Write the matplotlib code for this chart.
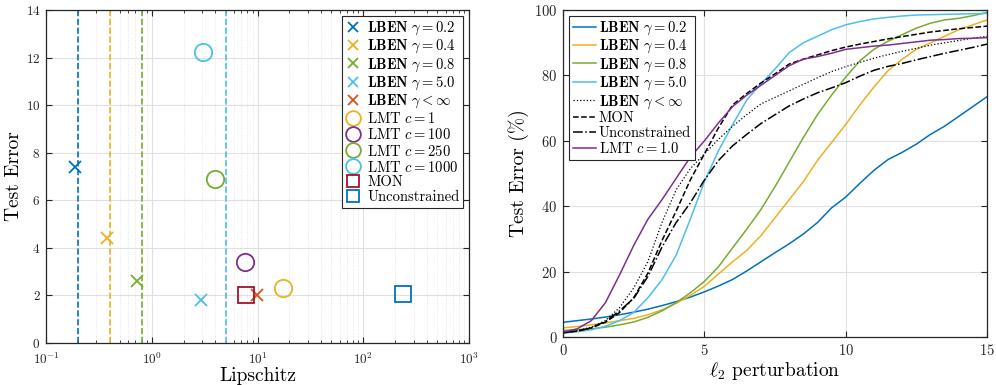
import matplotlib
matplotlib.use('Agg')
import matplotlib.pyplot as plt
import numpy as np

plt.rcParams['font.family'] = 'serif'
plt.rcParams['font.serif'] = ['cmr10']
plt.rcParams['mathtext.fontset'] = 'cm'
plt.rcParams['axes.formatter.use_mathtext'] = True

# MATLAB default colours
blue = (0.0, 0.447, 0.741)
orange = (0.929, 0.694, 0.125)
green = (0.466, 0.674, 0.188)
lblue = (0.301, 0.745, 0.933)
red = (0.85, 0.325, 0.098)
purple = (0.494, 0.184, 0.556)
dred = (0.635, 0.078, 0.184)

# ---- left panel data: Lipschitz vs test error ----
lben_labels = [r'$\mathbf{LBEN}\ \gamma=0.2$', r'$\mathbf{LBEN}\ \gamma=0.4$',
               r'$\mathbf{LBEN}\ \gamma=0.8$', r'$\mathbf{LBEN}\ \gamma=5.0$',
               r'$\mathbf{LBEN}\ \gamma<\infty$']
lben_lip = [0.188, 0.375, 0.72, 2.95, 9.8]
lben_err = [7.42, 4.41, 2.59, 1.82, 2.03]
lben_gamma = [0.2, 0.4, 0.8, 5.0]   # dashed vertical bounds

lmt_labels = [r'LMT $c=1$', r'LMT $c=100$', r'LMT $c=250$', r'LMT $c=1000$']
lmt_lip = [17.5, 7.6, 3.96, 3.07]
lmt_err = [2.31, 3.40, 6.90, 12.22]

mon_lip, mon_err = 7.78, 2.03
unc_lip, unc_err = 239, 2.07

# ---- right panel data: error vs l2 perturbation ----
eps = np.arange(0, 15.01, 0.5)
err_g02 = [4.5, 5.0, 5.5, 6.1, 6.8, 7.6, 8.5, 9.6, 10.8, 12.2, 13.8, 15.6, 17.6, 20.2, 23.0, 25.8,
           28.5, 31.5, 35.0, 39.5, 42.8, 47.0, 51.0, 54.3, 56.5, 59.0, 62.0, 64.5, 67.5, 70.5, 73.5]
err_g04 = [2.8, 3.2, 3.7, 4.3, 5.0, 5.7, 6.8, 8.3, 10.3, 12.7, 15.5, 19.3, 23.0, 26.5, 31.0, 36.5,
           42.0, 47.5, 54.0, 59.5, 65.0, 71.0, 76.5, 81.5, 85.0, 88.0, 90.0, 92.0, 94.0, 95.5, 97.0]
err_g08 = [2.0, 2.2, 2.5, 3.0, 3.7, 4.6, 6.0, 8.0, 10.5, 13.5, 17.0, 21.5, 27.3, 33.0, 39.0, 46.0,
           53.5, 61.0, 68.0, 74.0, 79.5, 84.5, 88.0, 90.5, 92.5, 94.5, 96.0, 97.0, 97.5, 98.3, 99.3]
err_g5 = [1.2, 1.6, 2.2, 3.3, 5.0, 7.5, 12.0, 17.5, 25.0, 36.0, 47.5, 57.0, 65.0, 72.5, 77.5, 82.0,
          87.0, 90.0, 92.0, 94.0, 95.5, 96.5, 97.3, 97.8, 98.2, 98.5, 98.6, 98.7, 98.8, 98.9, 99.0]
err_ginf = [1.5, 2.0, 3.0, 5.0, 9.0, 15.0, 23.0, 35.0, 45.0, 51.5, 56.0, 60.5, 64.5, 68.0, 71.3, 73.3,
            75.3, 77.3, 79.3, 81.2, 82.7, 84.0, 85.3, 86.4, 87.4, 88.3, 89.3, 90.0, 90.7, 91.4, 92.0]
err_mon = [1.3, 1.8, 2.8, 4.5, 7.5, 12.0, 19.5, 29.5, 38.5, 48.0, 56.0, 64.0, 71.0, 74.5, 77.7, 80.5,
           83.5, 85.0, 86.3, 87.6, 88.7, 89.6, 90.4, 91.2, 91.9, 92.6, 93.3, 93.8, 94.3, 94.7, 95.1]
err_unc = [1.3, 1.8, 2.8, 4.8, 8.0, 11.8, 18.5, 27.5, 35.0, 41.0, 48.0, 54.0, 58.5, 62.0, 65.3, 68.0,
           70.7, 72.8, 74.7, 76.2, 77.8, 79.8, 81.6, 82.8, 83.7, 84.8, 85.8, 86.8, 87.7, 88.6, 89.6]
err_lmt = [1.5, 2.5, 5.0, 10.5, 19.0, 28.0, 36.0, 42.0, 48.5, 55.0, 60.0, 65.5, 70.5, 74.0, 77.0, 80.0,
           83.0, 85.0, 85.8, 86.8, 88.0, 88.5, 89.0, 89.3, 89.8, 90.3, 90.8, 91.0, 91.3, 91.4, 91.6]

fig = plt.figure(figsize=(9.96, 3.85), dpi=100)
ax1 = fig.add_axes([0.0462, 0.109, 0.4247, 0.865])
ax2 = fig.add_axes([0.5653, 0.1247, 0.4257, 0.849])

grid_c = (0.88, 0.88, 0.88)
axis_c = (0.15, 0.15, 0.15)

# left panel
lben_cols = [blue, orange, green, lblue, red]
for g, c in zip(lben_gamma, lben_cols):
    ax1.axvline(g, color=c, linestyle='--', lw=1.2)
for x, y, c, lab in zip(lben_lip, lben_err, lben_cols, lben_labels):
    ax1.plot(x, y, 'x', color=c, ms=9, mew=1.3, label=lab)
lmt_cols = [orange, purple, green, lblue]
for x, y, c, lab in zip(lmt_lip, lmt_err, lmt_cols, lmt_labels):
    ax1.plot(x, y, 'o', color=c, mfc='none', ms=12.5, mew=1.3, label=lab)
ax1.plot(mon_lip, mon_err, 's', color=dred, mfc='none', ms=11, mew=1.3, label='MON')
ax1.plot(unc_lip, unc_err, 's', color=blue, mfc='none', ms=11, mew=1.3, label='Unconstrained')

ax1.set_xscale('log')
ax1.set_xlim(0.1, 1000)
ax1.set_ylim(0, 14)
ax1.set_yticks(range(0, 15, 2))
ax1.grid(True, which='major', color=grid_c, lw=0.8)
ax1.grid(True, which='minor', axis='x', color=grid_c, lw=0.6, linestyle=':')
ax1.set_xlabel('Lipschitz', fontsize=14, labelpad=0)
ax1.set_ylabel('Test Error', fontsize=14, labelpad=2)
leg1 = ax1.legend(loc='upper right', fontsize=10.5, numpoints=1, handlelength=1.0, markerscale=0.85,
                  handletextpad=0.5, labelspacing=0.07, borderpad=0.25, borderaxespad=0.4,
                  fancybox=False, framealpha=1, edgecolor=axis_c)
leg1.get_frame().set_linewidth(0.8)

# right panel
ax2.plot(eps, err_g02, color=blue, lw=1.1, label=lben_labels[0])
ax2.plot(eps, err_g04, color=orange, lw=1.1, label=lben_labels[1])
ax2.plot(eps, err_g08, color=green, lw=1.1, label=lben_labels[2])
ax2.plot(eps, err_g5, color=lblue, lw=1.1, label=lben_labels[3])
ax2.plot(eps, err_ginf, color='k', lw=0.9, linestyle=':', label=lben_labels[4])
ax2.plot(eps, err_mon, color='k', lw=1.1, linestyle='--', label='MON')
ax2.plot(eps, err_unc, color='k', lw=1.1, linestyle='-.', label='Unconstrained')
ax2.plot(eps, err_lmt, color=purple, lw=1.1, label=r'LMT $c=1.0$')

ax2.set_xlim(0, 15)
ax2.set_ylim(0, 100)
ax2.set_xticks([0, 5, 10, 15])
ax2.set_yticks(range(0, 101, 20))
ax2.grid(True, color=grid_c, lw=0.8)
ax2.set_xlabel(r'$\ell_2$ perturbation', fontsize=14, labelpad=2)
ax2.set_ylabel('Test Error (%)', fontsize=14, labelpad=4)
leg2 = ax2.legend(loc='upper left', fontsize=10.5, handlelength=1.6, handletextpad=0.2,
                  labelspacing=0.07, borderpad=0.25, borderaxespad=0.4,
                  fancybox=False, framealpha=1, edgecolor=axis_c)
leg2.get_frame().set_linewidth(0.8)

for ax, ls in ((ax1, 9.5), (ax2, 10.5)):
    ax.set_axisbelow(True)
    ax.tick_params(which='both', direction='in', top=True, right=True, colors=axis_c,
                   labelsize=ls, labelcolor=axis_c, pad=4)
    ax.tick_params(which='major', length=4)
    ax.tick_params(which='minor', length=2)
    for s in ax.spines.values():
        s.set_color(axis_c)
        s.set_linewidth(0.9)
ax1.tick_params(axis='x', which='both', pad=6)

fig.savefig('out.png', dpi=100)
